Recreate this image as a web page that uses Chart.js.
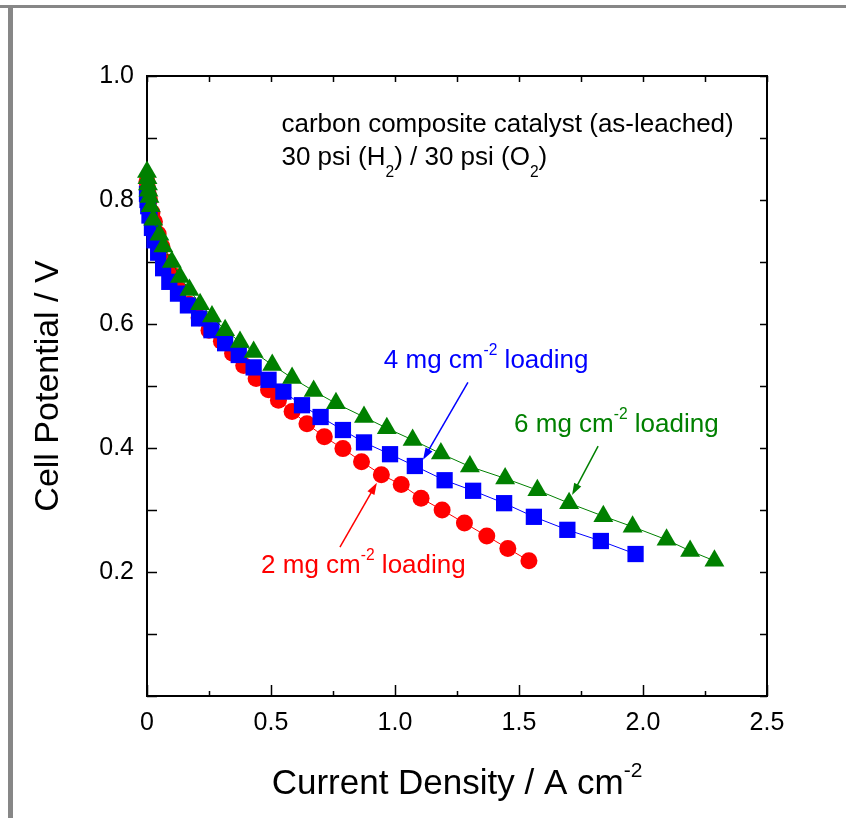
<!DOCTYPE html>
<html>
<head>
<meta charset="utf-8">
<script src="https://cdn.jsdelivr.net/npm/chart.js"></script>
<style>
  html, body { margin: 0; padding: 0; background: #fff; }
  #wrap { position: relative; width: 846px; height: 818px; overflow: hidden; }
  #topBar { position: absolute; left: 0; top: 5px; width: 846px; height: 3px; background: #878787; }
  #leftBar { position: absolute; left: 8px; top: 8px; width: 5px; height: 810px; background: #878787; }
  canvas { position: absolute; left: 0; top: 0; }
</style>
</head>
<body>
<div id="wrap">
  <div id="topBar"></div>
  <div id="leftBar"></div>
  <canvas id="polCurve" width="846" height="818"></canvas>
</div>
<script>
// current density (A cm-2) and cell potential (V)
const current2mg = [0.0, 0.002, 0.005, 0.01, 0.02, 0.03, 0.045, 0.06, 0.08, 0.1, 0.13, 0.17, 0.21, 0.25, 0.3, 0.345, 0.39, 0.44, 0.49, 0.53, 0.585, 0.645, 0.715, 0.79, 0.865, 0.945, 1.025, 1.105, 1.19, 1.28, 1.37, 1.455, 1.54];
const potential2mg = [0.83, 0.82, 0.81, 0.80, 0.78, 0.765, 0.745, 0.725, 0.70, 0.68, 0.655, 0.632, 0.61, 0.59, 0.572, 0.553, 0.533, 0.512, 0.494, 0.477, 0.459, 0.439, 0.418, 0.399, 0.378, 0.357, 0.341, 0.319, 0.300, 0.279, 0.258, 0.238, 0.218];

const current4mg = [0.0, 0.002, 0.005, 0.01, 0.02, 0.03, 0.045, 0.065, 0.09, 0.125, 0.165, 0.21, 0.26, 0.315, 0.37, 0.43, 0.49, 0.55, 0.625, 0.7, 0.79, 0.875, 0.98, 1.08, 1.2, 1.315, 1.44, 1.56, 1.695, 1.83, 1.97];
const potential4mg = [0.81, 0.80, 0.79, 0.775, 0.755, 0.735, 0.715, 0.69, 0.668, 0.649, 0.63, 0.609, 0.59, 0.569, 0.55, 0.53, 0.51, 0.491, 0.469, 0.45, 0.429, 0.409, 0.39, 0.371, 0.348, 0.331, 0.311, 0.289, 0.268, 0.250, 0.229];

const current6mg = [0.0, 0.002, 0.004, 0.006, 0.01, 0.015, 0.025, 0.05, 0.066, 0.1, 0.133, 0.171, 0.214, 0.262, 0.315, 0.375, 0.43, 0.505, 0.585, 0.672, 0.762, 0.875, 0.967, 1.071, 1.185, 1.302, 1.444, 1.574, 1.702, 1.84, 1.958, 2.095, 2.19, 2.288];
const potential6mg = [0.845, 0.835, 0.825, 0.815, 0.805, 0.79, 0.768, 0.744, 0.725, 0.70, 0.676, 0.655, 0.632, 0.612, 0.59, 0.571, 0.555, 0.534, 0.513, 0.492, 0.472, 0.450, 0.432, 0.413, 0.391, 0.370, 0.351, 0.332, 0.311, 0.290, 0.273, 0.252, 0.234, 0.218];

const xTickLabels = ['0', '0.5', '1.0', '1.5', '2.0', '2.5'];
const yTickLabels = ['0.2', '0.4', '0.6', '0.8', '1.0'];

const FONT = "'Liberation Sans', Arial, Helvetica, sans-serif";
Chart.defaults.font.family = FONT;

const toPoints = (xs, ys) => xs.map((x, i) => ({ x: x, y: ys[i] }));

// text and arrows, anchored in data units
const notes = [
    { parts: [['carbon composite catalyst (as-leached)']], x: 0.542, y: 0.910, color: '#000' },
    { parts: [['30 psi (H'], ['2', 'sub'], [') / 30 psi (O'], ['2', 'sub'], [')']], x: 0.542, y: 0.856, color: '#000' },
    { parts: [['4 mg cm'], ['-2', 'sup'], [' loading']], x: 0.955, y: 0.529, color: '#0000ff' },
    { parts: [['6 mg cm'], ['-2', 'sup'], [' loading']], x: 1.480, y: 0.426, color: '#008000' },
    { parts: [['2 mg cm'], ['-2', 'sup'], [' loading']], x: 0.460, y: 0.198, color: '#ff0000' }
];
const arrows = [
    { from: [1.294, 0.506], to: [1.113, 0.381], color: '#0000ff' },
    { from: [1.819, 0.403], to: [1.714, 0.324], color: '#008000' },
    { from: [0.778, 0.240], to: [0.927, 0.344], color: '#ff0000' }
];

const drawRich = (ctx, parts, x, y, size) => {
    let cx = x;
    parts.forEach(([t, kind]) => {
        let s = size, dy = 0;
        if (kind === 'sub') { s = size * 0.6; dy = size * 0.45; }
        if (kind === 'sup') { s = size * 0.6; dy = -size * 0.5; }
        ctx.font = s + 'px ' + FONT;
        ctx.fillText(t, cx, y + dy);
        cx += ctx.measureText(t).width;
    });
    return cx - x;
};

const framePlugin = {
    id: 'frame',
    beforeDatasetsDraw(chart) {
        const { ctx, chartArea: a, scales: { x, y } } = chart;
        ctx.save();
        ctx.strokeStyle = '#000';
        ctx.lineWidth = 2;
        ctx.strokeRect(a.left, a.top, a.right - a.left, a.bottom - a.top);
        ctx.lineWidth = 1.5;
        ctx.beginPath();
        // x ticks, bottom and top
        for (let i = 0; i <= 10; i++) {
            const v = i * 0.25;
            const px = Math.round(x.getPixelForValue(v)) + 0.5;
            const len = i % 2 === 0 ? 11 : 5;
            ctx.moveTo(px, a.bottom); ctx.lineTo(px, a.bottom - len);
            ctx.moveTo(px, a.top); ctx.lineTo(px, a.top + 6);
        }
        // y ticks, left and right
        for (let i = 0; i <= 10; i++) {
            const v = i * 0.1;
            const py = Math.round(y.getPixelForValue(v)) + 0.5;
            ctx.moveTo(a.left, py); ctx.lineTo(a.left + 10, py);
            ctx.moveTo(a.right, py); ctx.lineTo(a.right - 7, py);
        }
        ctx.stroke();
        ctx.restore();
    },
    afterDraw(chart) {
        const { ctx, chartArea: a, scales: { x, y } } = chart;
        ctx.save();
        ctx.textBaseline = 'alphabetic';
        ctx.textAlign = 'left';
        notes.forEach(n => {
            ctx.fillStyle = n.color;
            drawRich(ctx, n.parts, x.getPixelForValue(n.x), y.getPixelForValue(n.y), 26);
        });
        arrows.forEach(ar => {
            const x0 = x.getPixelForValue(ar.from[0]), y0 = y.getPixelForValue(ar.from[1]);
            const x1 = x.getPixelForValue(ar.to[0]), y1 = y.getPixelForValue(ar.to[1]);
            const ang = Math.atan2(y1 - y0, x1 - x0);
            ctx.strokeStyle = ar.color;
            ctx.fillStyle = ar.color;
            ctx.lineWidth = 1.5;
            ctx.beginPath();
            ctx.moveTo(x0, y0);
            ctx.lineTo(x1 - 8 * Math.cos(ang), y1 - 8 * Math.sin(ang));
            ctx.stroke();
            ctx.beginPath();
            ctx.moveTo(x1, y1);
            ctx.lineTo(x1 - 12 * Math.cos(ang) + 4 * Math.sin(ang), y1 - 12 * Math.sin(ang) - 4 * Math.cos(ang));
            ctx.lineTo(x1 - 12 * Math.cos(ang) - 4 * Math.sin(ang), y1 - 12 * Math.sin(ang) + 4 * Math.cos(ang));
            ctx.closePath();
            ctx.fill();
        });

        // axis titles
        ctx.fillStyle = '#000';
        const xSize = 35;
        const xParts = [['Current Density / A cm'], ['-2', 'sup']];
        ctx.font = xSize + 'px ' + FONT;
        let w = ctx.measureText('Current Density / A cm').width;
        ctx.font = (xSize * 0.6) + 'px ' + FONT;
        w += ctx.measureText('-2').width;
        drawRich(ctx, xParts, (a.left + a.right) / 2 - w / 2, 794, xSize);

        ctx.translate(58, (a.top + a.bottom) / 2);
        ctx.rotate(-Math.PI / 2);
        ctx.textAlign = 'center';
        ctx.font = '34px ' + FONT;
        ctx.fillText('Cell Potential / V', 0, 0);
        ctx.restore();
    }
};

const ctx = document.getElementById('polCurve').getContext('2d');
const chart = new Chart(ctx, {
    type: 'line',
    data: {
        datasets: [
            {
                label: '6 mg cm-2 loading',
                data: toPoints(current6mg, potential6mg),
                borderColor: '#008000',
                backgroundColor: '#008000',
                borderWidth: 1,
                pointStyle: 'triangle',
                pointRadius: 11.5,
                pointBorderWidth: 0
            },
            {
                label: '4 mg cm-2 loading',
                data: toPoints(current4mg, potential4mg),
                borderColor: '#0000ff',
                backgroundColor: '#0000ff',
                borderWidth: 1,
                pointStyle: 'rect',
                pointRadius: 11.5,
                pointBorderWidth: 0
            },
            {
                label: '2 mg cm-2 loading',
                data: toPoints(current2mg, potential2mg),
                borderColor: '#ff0000',
                backgroundColor: '#ff0000',
                borderWidth: 1,
                pointStyle: 'circle',
                pointRadius: 8.5,
                pointBorderWidth: 0
            }
        ]
    },
    options: {
        responsive: false,
        animation: false,
        clip: false,
        layout: { padding: { left: 0, right: 79, top: 76, bottom: 0 } },
        plugins: {
            legend: { display: false },
            tooltip: { enabled: false }
        },
        scales: {
            x: {
                type: 'linear',
                min: 0,
                max: 2.5,
                afterFit: (s) => { s.height = 122; },
                grid: { display: false, drawTicks: false },
                border: { display: false },
                ticks: {
                    stepSize: 0.25,
                    autoSkip: false,
                    maxRotation: 0,
                    padding: 12,
                    color: '#000',
                    font: { size: 25 },
                    callback: (v) => {
                        const k = Math.round(v * 4);
                        return k % 2 === 0 ? xTickLabels[k / 2] : '';
                    }
                }
            },
            y: {
                type: 'linear',
                min: 0,
                max: 1.0,
                afterFit: (s) => { s.width = 147; },
                grid: { display: false, drawTicks: false },
                border: { display: false },
                ticks: {
                    stepSize: 0.1,
                    autoSkip: false,
                    padding: 13,
                    color: '#000',
                    font: { size: 25 },
                    callback: (v) => {
                        const k = Math.round(v * 10);
                        return (k > 0 && k % 2 === 0) ? yTickLabels[k / 2 - 1] : '';
                    }
                }
            }
        }
    },
    plugins: [framePlugin]
});
</script>
</body>
</html>
